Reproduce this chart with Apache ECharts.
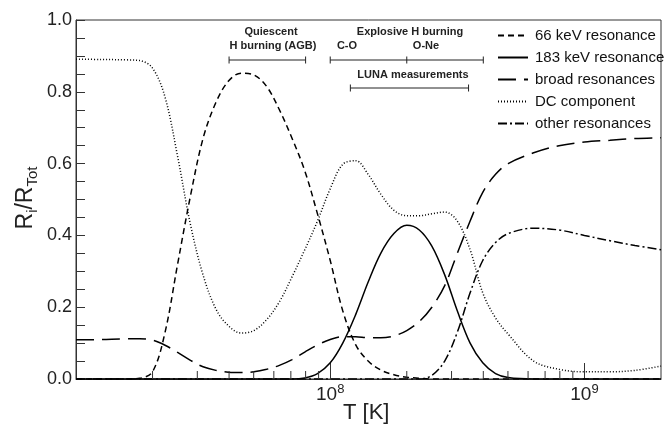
<!DOCTYPE html>
<html><head><meta charset="utf-8">
<script src="https://cdn.jsdelivr.net/npm/echarts@6/dist/echarts.min.js"></script>
<style>html,body{margin:0;padding:0;background:#fff}#c{width:670px;height:425px}</style>
</head><body><div id="c"></div>
<script>
// Temperatures (K)
const temperatures = [1.00e7,1.26e7,1.58e7,1.78e7,2.00e7,2.24e7,2.51e7,2.82e7,3.16e7,3.55e7,3.98e7,4.47e7,5.01e7,5.62e7,6.31e7,7.08e7,7.94e7,8.91e7,
  1.00e8,1.12e8,1.26e8,1.41e8,1.58e8,1.78e8,2.00e8,2.24e8,2.51e8,2.82e8,3.16e8,3.55e8,3.98e8,4.47e8,5.01e8,6.31e8,7.94e8,1.00e9,1.26e9,1.58e9,2.00e9];
const res66 = [0,0,0,0.002,0.02,0.13,0.32,0.51,0.67,0.77,0.83,0.852,0.847,0.815,0.75,0.67,0.58,0.46,
  0.33,0.19,0.095,0.05,0.025,0.012,0.005,0.002,0,0,0,0,0,0,0,0,0,0,0,0,0];
const res183 = [0,0,0,0,0,0,0,0,0,0,0,0,0,0,0,0,0.003,0.015,
  0.045,0.1,0.18,0.27,0.35,0.405,0.428,0.415,0.37,0.29,0.19,0.1,0.045,0.015,0.004,0,0,0,0,0,0];
const broadRes = [0.109,0.11,0.112,0.112,0.108,0.094,0.074,0.052,0.034,0.024,0.019,0.018,0.02,0.027,0.038,0.054,0.075,0.095,
  0.11,0.118,0.118,0.115,0.115,0.12,0.135,0.16,0.2,0.26,0.35,0.44,0.52,0.57,0.6,0.63,0.65,0.66,0.665,0.67,0.672];
const dcComp = [0.891,0.890,0.889,0.887,0.866,0.785,0.62,0.43,0.29,0.195,0.148,0.128,0.135,0.165,0.215,0.285,0.36,0.44,
  0.53,0.598,0.608,0.57,0.515,0.47,0.455,0.455,0.46,0.465,0.44,0.36,0.24,0.17,0.125,0.05,0.027,0.02,0.02,0.024,0.036];
const otherRes = [0,0,0,0,0,0,0,0,0,0,0,0,0,0,0,0,0,0,
  0,0,0,0,0,0,0,0,0.01,0.05,0.13,0.24,0.33,0.38,0.405,0.42,0.415,0.4,0.385,0.372,0.36];
const seriesNames = ['66 keV resonance','183 keV resonance','broad resonances','DC component','other resonances'];
const xMinorTicks = [2e7,3e7,4e7,5e7,6e7,7e7,8e7,9e7,2e8,3e8,4e8,5e8,6e8,7e8,8e8,9e8];
const xLabelledDecades = [8, 9];
const agbRange = [4.0e7, 8.0e7];
const explosiveRange = [1.0e8, 2.0e8, 4.0e8];
const lunaRange = [1.2e8, 3.5e8];

const FONT = '"Liberation Sans", Arial, Helvetica, sans-serif';
const chart = echarts.init(document.getElementById('c'), null, {renderer: 'canvas'});

function zip(vals){ return temperatures.map((t,i)=>[t, vals[i]]); }
const dashTypes = [[6,4], 'solid', [18,8], [1,2], [9,3,2,3]];
const valueSets = [res66,res183,broadRes,dcComp,otherRes];
const curveSeries = seriesNames.map((n,i)=>({
  name:n, type:'line', data: zip(valueSets[i]), symbol:'none', showSymbol:false, smooth:0.35, z:3,
  lineStyle:{color:'#000', width:1.5, type: dashTypes[i]}, itemStyle:{color:'#000'}, silent:true
}));

function rangeBar(range, offsetY){
  return {
    type:'custom', silent:true, z:4, clip:false,
    data:[range],
    renderItem: function(params, api){
      const y = params.coordSys.y + offsetY;
      const xs = range.map(t => api.coord([t, 0])[0]);
      const children = [{type:'line', shape:{x1:xs[0], y1:y, x2:xs[xs.length-1], y2:y}, style:{stroke:'#222', lineWidth:1}}];
      xs.forEach(x => children.push({type:'line', shape:{x1:x, y1:y-3.5, x2:x, y2:y+3.5}, style:{stroke:'#222', lineWidth:1}}));
      return {type:'group', children};
    }
  };
}

const minorTickSeries = {
  type:'custom', silent:true, z:5, clip:false,
  data: xMinorTicks.map(t=>[t,0]),
  renderItem: function(params, api){
    const p = api.coord([api.value(0), 0]);
    return {type:'line', shape:{x1:p[0], y1:p[1], x2:p[0], y2:p[1]-8}, style:{stroke:'#333', lineWidth:1}};
  }
};

const option = {
  animation:false,
  backgroundColor:'#fff',
  grid:{left:76, right:9, top:20, bottom:46, show:true, borderColor:'#333', borderWidth:1},
  xAxis:{
    type:'log', logBase:10, min:1e7, max:2e9,
    axisLine:{show:true, lineStyle:{color:'#333', width:1}},
    axisTick:{show:true, inside:true, length:16, lineStyle:{color:'#333'}},
    splitLine:{show:false},
    axisLabel:{
      margin:6, color:'#222', fontFamily:FONT, showMaxLabel:false,
      formatter:function(v){
        const l = Math.log10(v); const e = Math.round(l);
        if (Math.abs(l-e) < 1e-6 && xLabelledDecades.indexOf(e) >= 0) return '{b|10}{s|'+e+'}';
        return '';
      },
      rich:{
        b:{fontSize:19, lineHeight:19, verticalAlign:'bottom', fontFamily:FONT, color:'#222'},
        s:{fontSize:13, lineHeight:13, padding:[0,0,10,0], fontFamily:FONT, color:'#222'}
      }
    }
  },
  yAxis:{
    type:'value', min:0, max:1, interval:0.2,
    axisLine:{show:true, lineStyle:{color:'#333', width:1}},
    axisTick:{show:true, inside:true, length:9, lineStyle:{color:'#333'}},
    minorTick:{show:true, splitNumber:4, length:9, lineStyle:{color:'#333'}},
    splitLine:{show:false},
    axisLabel:{margin:4, fontSize:18, color:'#222', fontFamily:FONT, formatter:v=>v.toFixed(1)}
  },
  legend:{
    orient:'vertical', left:492, top:23, itemWidth:30, itemHeight:12, itemGap:7,
    data:seriesNames, selectedMode:false,
    itemStyle:{opacity:0},
    textStyle:{fontSize:15, color:'#111', fontFamily:FONT, padding:[0,0,0,2]}
  },
  series: curveSeries.concat([
    minorTickSeries,
    rangeBar(agbRange, 40),
    rangeBar(explosiveRange, 40),
    rangeBar(lunaRange, 68)
  ]),
  graphic:[
    {type:'text', x:271, y:32, style:{text:'Quiescent', font:'bold 11px '+FONT, fill:'#222', align:'center', verticalAlign:'middle'}},
    {type:'text', x:273, y:46, style:{text:'H burning (AGB)', font:'bold 11px '+FONT, fill:'#222', align:'center', verticalAlign:'middle'}},
    {type:'text', x:410, y:32, style:{text:'Explosive H burning', font:'bold 11px '+FONT, fill:'#222', align:'center', verticalAlign:'middle'}},
    {type:'text', x:347, y:46, style:{text:'C-O', font:'bold 11px '+FONT, fill:'#222', align:'center', verticalAlign:'middle'}},
    {type:'text', x:426, y:46, style:{text:'O-Ne', font:'bold 11px '+FONT, fill:'#222', align:'center', verticalAlign:'middle'}},
    {type:'text', x:413, y:75, style:{text:'LUNA measurements', font:'bold 11px '+FONT, fill:'#222', align:'center', verticalAlign:'middle'}},
    {type:'text', x:343, y:413, style:{text:'T [K]', font:'22px '+FONT, fill:'#222', align:'left', verticalAlign:'middle'}},
    {type:'text', x:26, y:198, rotation:Math.PI/2,
      style:{text:'{m|R}{s|i}{m|/R}{s|Tot}', align:'center', verticalAlign:'middle',
        rich:{
          m:{fontSize:23, lineHeight:23, verticalAlign:'top', fontFamily:FONT, fill:'#222', color:'#222'},
          s:{fontSize:15, lineHeight:15, padding:[14,0,0,0], fontFamily:FONT, fill:'#222', color:'#222'}
        }}}
  ]
};
chart.setOption(option);
</script>
</body></html>
